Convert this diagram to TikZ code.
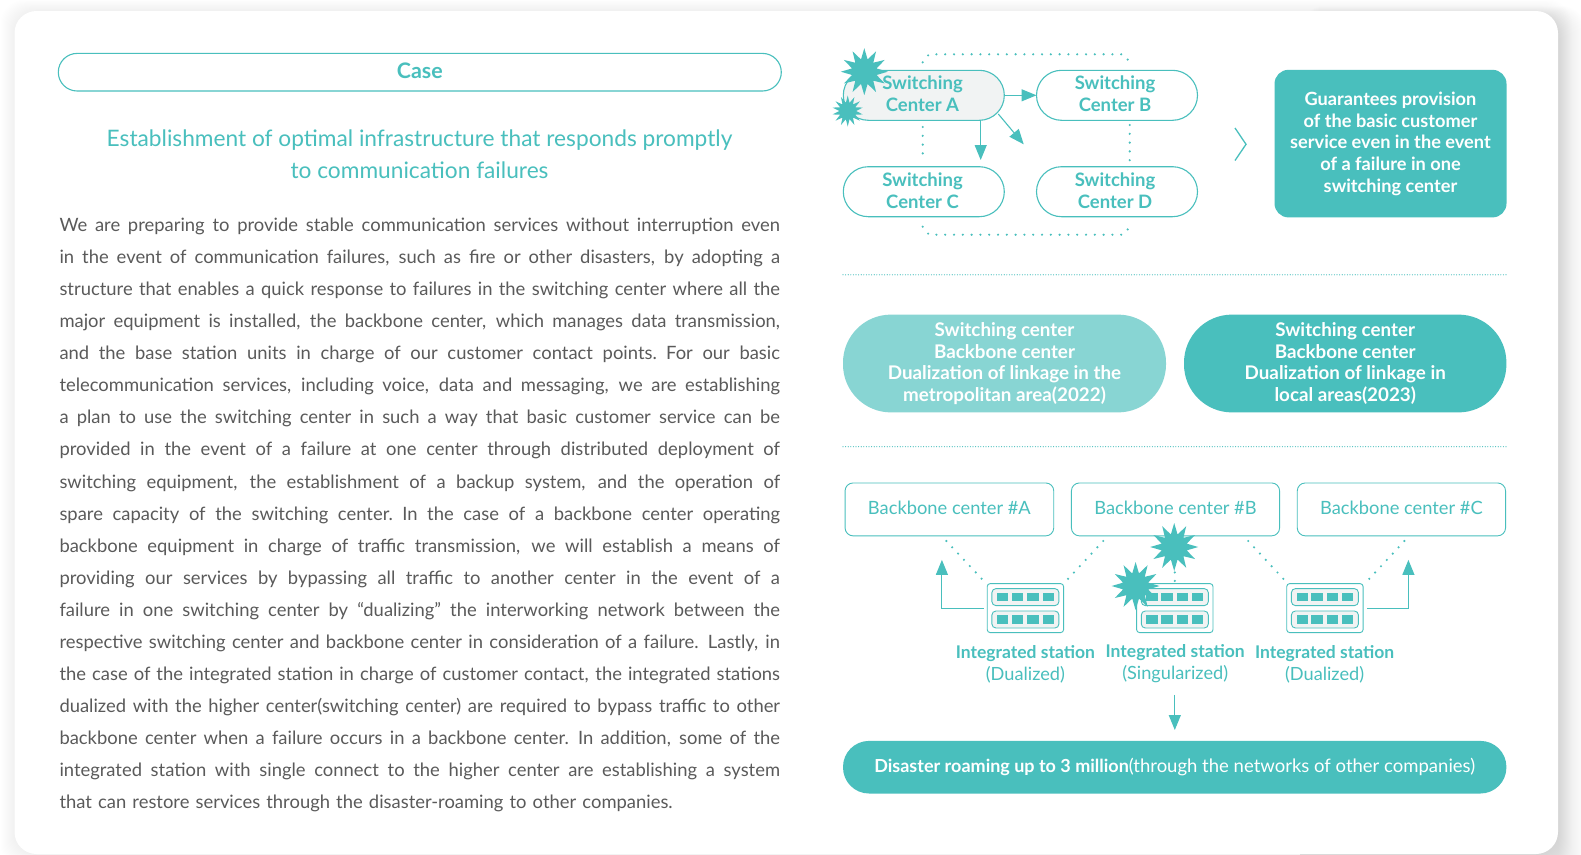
\documentclass[tikz,border=0pt]{standalone}
\usepackage{fontspec}
\setmainfont{Lato}
\usetikzlibrary{shapes.geometric,arrows.meta,calc}
\definecolor{teal1}{HTML}{49BFBD}
\definecolor{teal2}{HTML}{88D5D3}
\definecolor{softgrey}{HTML}{F1F3F3}
\definecolor{bodytext}{HTML}{5A5A5A}
\newcommand\bl[1]{\hbox to 720.5pt{\spaceskip=.19em plus 1fil minus .05em\relax #1}}
\newcommand\fsz[2]{\fontsize{#1}{#2}\selectfont}
\newcommand\lifted[1]{\raisebox{1.2pt}[\height][\depth]{#1}}
\tikzset{
  x=1pt,y=-1pt,
  every node/.style={inner sep=0pt,outer sep=0pt},
  switchtxt/.style={text=teal1,font=\fsz{18.5}{21.7}\bfseries,align=center},
  whitetxt/.style={text=white,font=\fsz{18.2}{21.7}\bfseries,align=center},
  backbone/.style={draw=teal1,line width=.9pt,rounded corners=8pt,fill=white,minimum height=52.9pt},
  bbtext/.style={text=teal1,font=\fsz{18.3}{22},align=center},
  stlabel/.style={text=teal1,font=\fsz{18.2}{21.9},align=center},
  burst/.style={star,star points=#1,star point ratio=1.85,fill=teal1,draw=none},
  arrowline/.style={draw=teal1,line width=1.1pt,-{Triangle[length=15pt,width=12pt,fill=teal1]}},
  dotline/.style={draw=teal1,line width=2.4pt,line cap=round,dash pattern=on 0pt off 8.8pt},
  sepline/.style={draw=teal1,line width=1.2pt,line cap=round,dash pattern=on 0pt off 2.6pt},
}
% station icon: name, left x, top y
\newcommand\stationicon[3]{%
  \node[draw=teal1,line width=.9pt,fill=white,rounded corners=3pt,minimum width=76.4pt,minimum height=49pt,anchor=north west] (#1) at (#2,#3) {};
  \foreach \by/\bn in {5/a,27.4/b}{%
    \node[draw=teal1,line width=.9pt,fill=softgrey,rounded corners=4pt,minimum width=67pt,minimum height=17pt,anchor=north west] (#1\bn) at ($(#2,#3)+(4.7,\by)$) {};
    \foreach \sx in {9.8,24.7,40.2,55.4}{%
      \fill[teal1] ($(#2,#3)+(\sx,\by+4.4)$) rectangle ++(11.2,8.1);
    }%
  }%
}
\begin{document}
\begin{tikzpicture}
\useasboundingbox (0,0) rectangle (1581,854);
% page and card
\fill[white] (0,0) rectangle (1581,854);
\foreach \i in {1,...,14}{
  \fill[black,opacity=.003,rounded corners=24pt] (14.5-\i,11-\i*.8) rectangle (1558+\i,854+\i);
}
\foreach \i in {1,...,28}{
  \fill[black,opacity=.0038,rounded corners=24pt] (1300,20-\i*.5) rectangle (1558+\i,900);
}
\node[fill=white,rounded corners=22pt,minimum width=1543.5pt,minimum height=843pt,anchor=north west] (card) at (14.5,11) {};

% left column
\node[draw=teal1,line width=1.1pt,rounded corners=18.8pt,minimum width=723pt,minimum height=37.6pt,text=teal1,font=\fsz{21.4}{24}\bfseries] (casepill) at (419.8,72.2) {\lifted{Case}};
\node[text=teal1,font=\fsz{22.7}{32},align=center] (title) at (419.5,153.8) {Establishment of optimal infrastructure that responds promptly\\to communication failures};
\node[anchor=north west,text width=720.5pt,text=bodytext,font=\fsz{18.4}{32.03}] (body) at (59.5,218.2) {\vbox{%
\bl{We are preparing to provide stable communication services without interruption even}%
\bl{in the event of communication failures, such as fire or other disasters, by adopting a}%
\bl{structure that enables a quick response to failures in the switching center where all the}%
\bl{major equipment is installed, the backbone center, which manages data transmission,}%
\bl{and the base station units in charge of our customer contact points. For our basic}%
\bl{telecommunication services, including voice, data and messaging, we are establishing}%
\bl{a plan to use the switching center in such a way that basic customer service can be}%
\bl{provided in the event of a failure at one center through distributed deployment of}%
\bl{switching equipment, the establishment of a backup system, and the operation of}%
\bl{spare capacity of the switching center. In the case of a backbone center operating}%
\bl{backbone equipment in charge of traffic transmission, we will establish a means of}%
\bl{providing our services by bypassing all traffic to another center in the event of a}%
\bl{failure in one switching center by “dualizing” the interworking network between the}%
\bl{respective switching center and backbone center in consideration of a failure. Lastly, in}%
\bl{the case of the integrated station in charge of customer contact, the integrated stations}%
\bl{dualized with the higher center(switching center) are required to bypass traffic to other}%
\bl{backbone center when a failure occurs in a backbone center. In addition, some of the}%
\bl{integrated station with single connect to the higher center are establishing a system}%
\hbox{that can restore services through the disaster-roaming to other companies.}%
}};

% top right: switching centres
\foreach \nm/\cx/\cy/\fl in {swA/923.8/95.3/softgrey,swB/1117/95.3/white,swC/923.8/191.7/white,swD/1117/191.7/white}{
  \node[draw=teal1,line width=1.1pt,fill=\fl,rounded corners=25pt,minimum width=161pt,minimum height=50pt] (\nm) at (\cx,\cy) {};
}
\node[burst=12,minimum size=47pt] (starbig) at (864.3,71.7) {};
\node[burst=14,minimum size=31pt] (starsmall) at (847.7,111) {};
\foreach \nm/\cx/\cy/\a/\b in {swA/922.5/94/Switching/Center A,swB/1115/94/Switching/Center B,swC/922.5/190.5/Switching/Center C,swD/1115/190.5/Switching/Center D}{
  \node[switchtxt] (\nm text) at (\cx,\cy) {\a\\\b};
}
\coordinate (diagend) at (1023.7,144.3);
\coordinate (diagstart) at (998.3,114);
\draw[arrowline] (swA.east) -- (swB.west);
\draw[arrowline] (swA.south -| 980.7,0) -- (980.7,160);
\draw[arrowline] (diagstart) -- (diagend);
\coordinate (tl) at (922.7,62.3); \coordinate (tl2) at (929,54.3);
\coordinate (tr2) at (1123,54.3); \coordinate (tr) at (1130,62.3);
\coordinate (bl) at (922.7,226.7); \coordinate (bl2) at (929,234.7);
\coordinate (br2) at (1123,234.7); \coordinate (br) at (1130,226.7);
\draw[dotline] (tl) -- (tl2) -- (tr2) -- (tr);
\draw[dotline] (bl) -- (bl2) -- (br2) -- (br);
\draw[dotline] (922.7,127) -- (922.7,161);
\draw[dotline] (1129.7,125) -- (1129.7,162);
\coordinate (ch1) at (1235,128); \coordinate (ch2) at (1246,144.3); \coordinate (ch3) at (1235,160.5);
\draw[teal1,line width=1.3pt] (ch1) -- (ch2) -- (ch3);
\node[fill=teal1,rounded corners=14pt,minimum width=232pt,minimum height=147.6pt,whitetxt] (guarantee) at (1390.5,143.6) {Guarantees provision\\of the basic customer\\service even in the event\\of a failure in one\\switching center};

\coordinate (s1a) at (843,274.8); \coordinate (s1b) at (1506.5,274.8);
\coordinate (s2a) at (843,446.7); \coordinate (s2b) at (1506.5,446.7);
\draw[sepline] (s1a) -- (s1b);
\draw[sepline] (s2a) -- (s2b);

% pills
\node[fill=teal2,rounded corners=48pt,minimum width=323pt,minimum height=97.8pt,text=white,font=\fsz{18.8}{21.7}\bfseries,align=center] (metro) at (1004.5,363.5) {Switching center\\Backbone center\\Dualization of linkage in the\\metropolitan area(2022)};
\node[fill=teal1,rounded corners=48pt,minimum width=322.4pt,minimum height=97.8pt,text=white,font=\fsz{18.8}{21.7}\bfseries,align=center] (local) at (1345.2,363.5) {Switching center\\Backbone center\\Dualization of linkage in\\local areas(2023)};

% backbone centres
\node[backbone,minimum width=208.7pt,bbtext] (bbA) at (949.4,509.4) {\lifted{Backbone center \#A}};
\node[backbone,minimum width=208.2pt,bbtext] (bbB) at (1175.5,509.4) {\lifted{Backbone center \#B}};
\node[backbone,minimum width=208.3pt,bbtext] (bbC) at (1401.4,509.4) {\lifted{Backbone center \#C}};

% stations
\stationicon{stA}{987.2}{583.6}
\stationicon{stB}{1136.6}{583.6}
\stationicon{stC}{1286.7}{583.6}
\node[burst=12,minimum size=48pt] (star3) at (1135.6,586) {};
\node[burst=12,minimum size=48pt] (star4) at (1174.2,547) {};
\newcommand\slab[2]{{\fontsize{17.5}{21.9}\selectfont\bfseries #1}\\#2}
\node[stlabel] (lblA) at (1025.4,664) {\slab{Integrated station}{(Dualized)}};
\node[stlabel] (lblB) at (1175.2,664) {\slab{Integrated station}{(Singularized)}};
\node[stlabel] (lblC) at (1324.6,664) {\slab{Integrated station}{(Dualized)}};

\coordinate (d1a) at (946.3,541); \coordinate (d1b) at (982.1,579.2);
\coordinate (d2a) at (1103.2,541); \coordinate (d2b) at (1067.7,579.2);
\coordinate (d3a) at (1248.2,541); \coordinate (d3b) at (1283.7,579.2);
\coordinate (d4a) at (1404.4,541); \coordinate (d4b) at (1368.9,579.2);
\coordinate (d5a) at (1174.8,572.4); \coordinate (d5b) at (1174.8,581);
\foreach \p/\q in {d1a/d1b,d2a/d2b,d3a/d3b,d4a/d4b}{\draw[dotline,dash pattern=on 0pt off 8.6pt] (\p) -- (\q);}
\draw[dotline,dash pattern=on 0pt off 8.5pt] (d5a) -- (d5b);

\coordinate (a1up) at (941.9,559.9); \coordinate (a1s) at (983.5,608.6);
\coordinate (a3up) at (1408.4,559.9); \coordinate (a3s) at (1367.2,608.6);
\coordinate (a2s) at (1174.8,694.8); \coordinate (a2e) at (1174.8,730);
\draw[arrowline] (a1s) -| (a1up);
\draw[arrowline] (a3s) -| (a3up);

% bottom bar
\node[fill=teal1,rounded corners=26pt,minimum width=663.4pt,minimum height=52.6pt,text=white,font=\fsz{18.5}{22}] (roam) at (1174.7,767.2) {{\fontsize{18}{22}\selectfont\bfseries Disaster roaming up to 3 million}(through the networks of other companies)};
\draw[arrowline] (a2s) -- (a2e);
\end{tikzpicture}
\end{document}
